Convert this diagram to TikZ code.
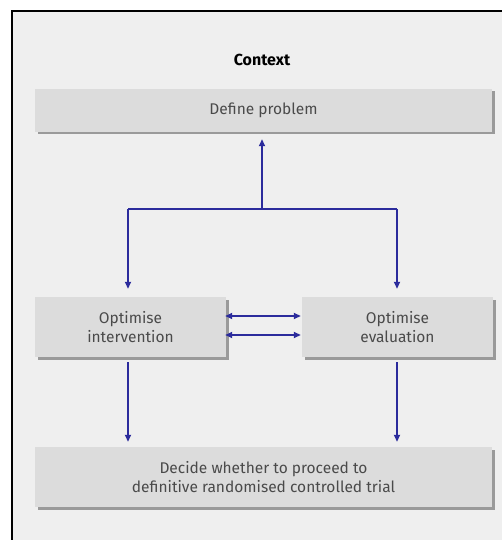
\documentclass[tikz,border=0pt]{standalone}
\usepackage{fontspec}
\setmainfont{Fira Sans}
\usetikzlibrary{arrows.meta,shadows}
\definecolor{panel}{HTML}{EFEFEF}
\definecolor{boxfill}{HTML}{DCDCDC}
\definecolor{boxshade}{HTML}{9A9A9A}
\definecolor{flow}{HTML}{2B2B9C}
\definecolor{label}{HTML}{4A4A4A}
\tikzset{
  stagebox/.style={fill=boxfill, draw=none, text=label, align=center,
    font=\fontsize{15.5}{19}\selectfont, inner sep=0pt,
    drop shadow={shadow xshift=2.5pt, shadow yshift=-2.5pt, fill=boxshade, opacity=1}},
  flowline/.style={draw=flow, line width=1.7pt},
  flowarrow/.style={flowline, -{Triangle[length=7pt,width=6pt]}},
  twoway/.style={flowline, {Triangle[length=7pt,width=6pt]}-{Triangle[length=7pt,width=6pt]}}
}
\begin{document}
\begin{tikzpicture}[x=1pt,y=-1pt]
  \useasboundingbox (0,0) rectangle (501,540);
  \fill[white] (0,0) rectangle (501,540);
  % framed panel, running past the right and bottom edges
  \fill[panel] (12,11) rectangle (505,545);
  \draw[black, line width=2.2pt] (12,545) -- (12,11) -- (505,11);

  \node[font=\bfseries\fontsize{16}{18}\selectfont, text=black] (ctx) at (262,60) {Context};

  \node[stagebox, minimum width=457pt, minimum height=43pt] (def) at (263.5,110.5) {Define problem};
  \node[stagebox, minimum width=191pt, minimum height=60pt] (int) at (130.5,327) {Optimise\\intervention};
  \node[stagebox, minimum width=191pt, minimum height=60pt] (eva) at (397.5,327) {Optimise\\evaluation};
  \node[stagebox, minimum width=457pt, minimum height=60pt] (dec) at (263.5,477) {Decide whether to proceed to\\definitive randomised controlled trial};

  \coordinate (split) at (262,209);
  \coordinate (splitL) at (128,209);
  \coordinate (splitR) at (397,209);

  \draw[flowarrow] (split) -- ([yshift=-7pt]def.south -| split);
  \draw[flowline] (splitL) -- (splitR);
  \draw[flowarrow] (splitL) -- ([yshift=8pt]int.north -| splitL);
  \draw[flowarrow] (splitR) -- ([yshift=8pt]eva.north -| splitR);

  \draw[twoway] ([yshift=11pt,xshift=-1pt]int.east) -- ([yshift=11pt,xshift=-1pt]eva.west);
  \draw[twoway] ([yshift=-8pt,xshift=-1pt]int.east) -- ([yshift=-8pt,xshift=-1pt]eva.west);

  \draw[flowarrow] ([yshift=-5pt]int.south -| splitL) -- ([yshift=5pt]dec.north -| splitL);
  \draw[flowarrow] ([yshift=-5pt]eva.south -| splitR) -- ([yshift=5pt]dec.north -| splitR);
\end{tikzpicture}
\end{document}
